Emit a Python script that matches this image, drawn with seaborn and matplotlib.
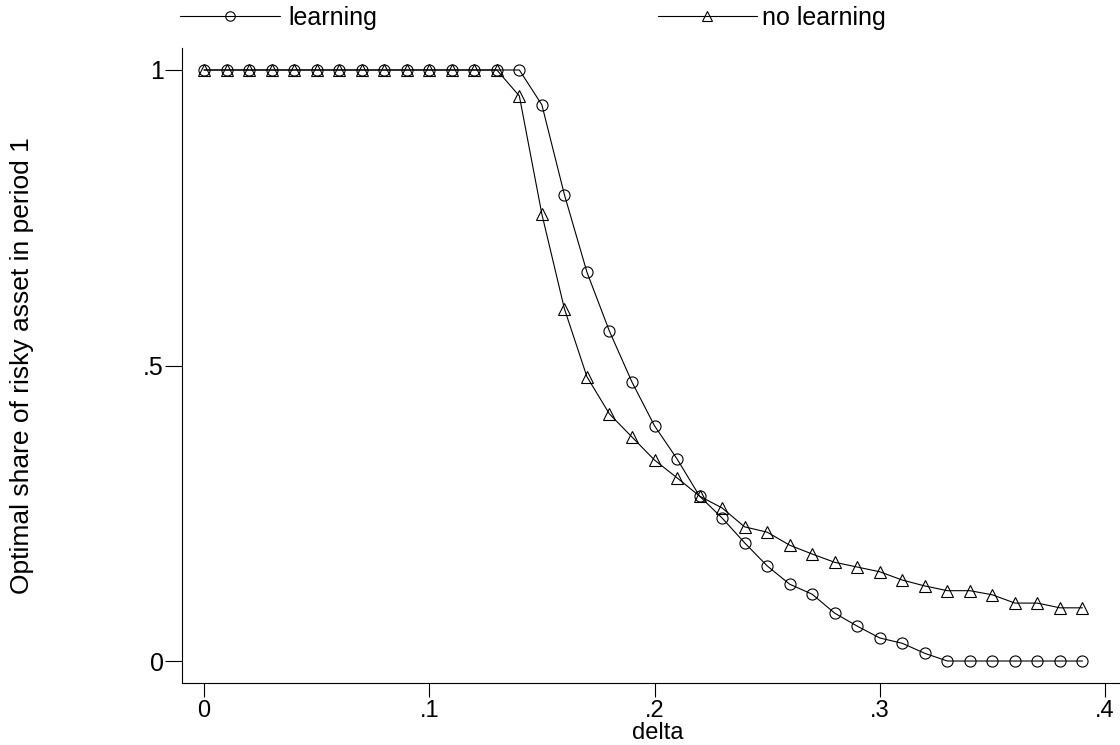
import numpy as np
import pandas as pd
import matplotlib
matplotlib.use("Agg")
import matplotlib.pyplot as plt
import seaborn as sns

# --------------------------------------------
# DATA
# --------------------------------------------
delta = [0.00, 0.01, 0.02, 0.03, 0.04, 0.05, 0.06, 0.07, 0.08, 0.09,
         0.10, 0.11, 0.12, 0.13, 0.14, 0.15, 0.16, 0.17, 0.18, 0.19,
         0.20, 0.21, 0.22, 0.23, 0.24, 0.25, 0.26, 0.27, 0.28, 0.29,
         0.30, 0.31, 0.32, 0.33, 0.34, 0.35, 0.36, 0.37, 0.38, 0.39]

learning = [1, 1, 1, 1, 1, 1, 1, 1, 1, 1,
            1, 1, 1, 1, 1, 0.941, 0.789, 0.658, 0.558, 0.472,
            0.398, 0.342, 0.279, 0.242, 0.200, 0.161, 0.130, 0.113, 0.081, 0.059,
            0.039, 0.030, 0.013, 0, 0, 0, 0, 0, 0, 0]

no_learning = [1, 1, 1, 1, 1, 1, 1, 1, 1, 1,
               1, 1, 1, 1, 0.956, 0.756, 0.596, 0.481, 0.418, 0.379,
               0.340, 0.310, 0.279, 0.259, 0.227, 0.218, 0.196, 0.181, 0.167, 0.159,
               0.151, 0.137, 0.127, 0.119, 0.119, 0.112, 0.098, 0.098, 0.090, 0.090]

x_ticks = [0, 0.1, 0.2, 0.3, 0.4]
x_ticklabels = ["0", ".1", ".2", ".3", ".4"]
y_ticks = [0, 0.5, 1]
y_ticklabels = ["0", ".5", "1"]

# --------------------------------------------
# STYLE
# --------------------------------------------
sns.set_style("white")
plt.rcParams["font.family"] = ["Liberation Sans", "DejaVu Sans"]
plt.rcParams["text.color"] = "black"
plt.rcParams["axes.labelcolor"] = "black"
plt.rcParams["xtick.color"] = "black"
plt.rcParams["ytick.color"] = "black"
fs = 18

fig = plt.figure(figsize=(11.2, 7.45), dpi=100)
ax = fig.add_axes([182 / 1120, 1 - 683 / 745, 938 / 1120, 635 / 745])

sns.lineplot(x=delta, y=learning, ax=ax, color="black", linewidth=0.8,
             marker="o", markersize=8, markerfacecolor="none",
             markeredgecolor="black", markeredgewidth=0.8, label="learning")
sns.lineplot(x=delta, y=no_learning, ax=ax, color="black", linewidth=0.8,
             marker="^", markersize=8, markerfacecolor="none",
             markeredgecolor="black", markeredgewidth=0.8, label="no learning")

ax.set_xlim(-0.00977, 0.40666)
ax.set_ylim(-0.0372, 1.0372)
ax.set_xticks(x_ticks)
ax.set_xticklabels(x_ticklabels)
ax.set_yticks(y_ticks)
ax.set_yticklabels(y_ticklabels)
ax.tick_params(axis="x", length=10, width=0.8, pad=2, labelsize=17,
               color="black", labelcolor="black")
ax.tick_params(axis="y", length=12, width=0.8, pad=1, labelsize=fs,
               color="black", labelcolor="black")
ax.xaxis.set_ticks_position("bottom")
ax.yaxis.set_ticks_position("left")

for side in ["top", "right"]:
    ax.spines[side].set_visible(False)
for side in ["left", "bottom"]:
    ax.spines[side].set_color("black")
    ax.spines[side].set_linewidth(0.8)

ax.set_xlabel("delta", fontsize=17, color="black")
ax.set_ylabel("Optimal share of risky asset in period 1", fontsize=19, color="black")
ax.xaxis.set_label_coords(0.5075, -0.0615)
ax.yaxis.set_label_coords(-0.158, 0.5)

# legend split in two pieces along the top
handles, labels = ax.get_legend_handles_labels()
ax.get_legend().remove()
y_leg = 1 - 18 / 745
fig.legend([handles[0]], [labels[0]], loc="center left",
           bbox_to_anchor=(180 / 1120, y_leg), frameon=False, fontsize=fs,
           borderpad=0, borderaxespad=0, handlelength=4.0, handletextpad=0.35,
           markerscale=0.85)
fig.legend([handles[1]], [labels[1]], loc="center left",
           bbox_to_anchor=(658 / 1120, y_leg), frameon=False, fontsize=fs,
           borderpad=0, borderaxespad=0, handlelength=3.95, handletextpad=0.2,
           markerscale=0.85)

plt.savefig("out.png", dpi=100)
